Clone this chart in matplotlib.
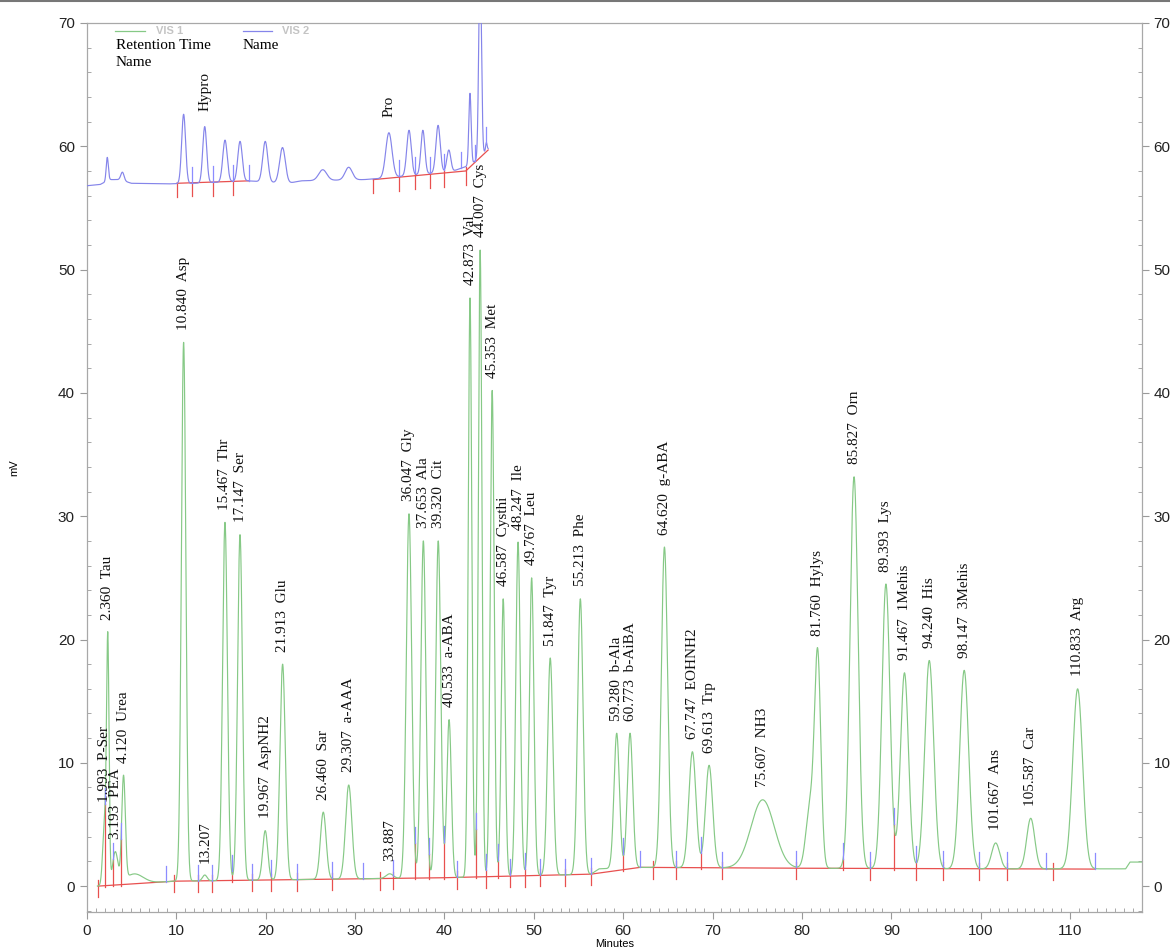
import numpy as np
import matplotlib
matplotlib.use("Agg")
import matplotlib.pyplot as plt
from matplotlib.ticker import MultipleLocator
from matplotlib.lines import Line2D

# ---- VIS 1 (green) peaks: retention time, apex (mV), width (sigma, min), label
rt1 = [1.993, 2.360, 3.193, 4.120, 10.840, 13.207, 15.467, 17.147, 19.967, 21.913,
       26.460, 29.307, 33.887, 36.047, 37.653, 39.320, 40.533, 42.873, 44.007, 45.353,
       46.587, 48.247, 49.767, 51.847, 55.213, 59.280, 60.773, 64.620, 67.747, 69.613,
       75.607, 81.760, 85.827, 89.393, 91.467, 94.240, 98.147, 101.667, 105.587, 110.833]
apex1 = [5.8, 20.6, 2.8, 9.0, 44.1, 0.9, 29.5, 28.5, 4.5, 18.0,
         6.0, 8.2, 1.0, 30.2, 28.0, 28.0, 13.5, 47.7, 51.6, 40.2,
         23.3, 27.9, 25.0, 18.5, 23.3, 12.4, 12.4, 27.5, 10.9, 9.8,
         7.0, 19.3, 33.2, 24.5, 17.3, 18.3, 17.5, 3.5, 5.5, 16.0]
sig1 = [0.2, 0.14, 0.3, 0.2, 0.25, 0.25, 0.27, 0.27, 0.28, 0.3,
        0.32, 0.35, 0.4, 0.3, 0.28, 0.28, 0.25, 0.2, 0.2, 0.22,
        0.22, 0.25, 0.25, 0.3, 0.3, 0.3, 0.3, 0.35, 0.4, 0.4,
        1.3, 0.35, 0.45, 0.45, 0.45, 0.5, 0.5, 0.45, 0.45, 0.55]
names1 = ["P-Ser", "Tau", "PEA", "Urea", "Asp", "", "Thr", "Ser", "AspNH2", "Glu",
          "Sar", "a-AAA", "", "Gly", "Ala", "Cit", "a-ABA", "Val", "Cys", "Met",
          "Cysthi", "Ile", "Leu", "Tyr", "Phe", "b-Ala", "b-AiBA", "g-ABA", "EOHNH2", "Trp",
          "NH3", "Hylys", "Orn", "Lys", "1Mehis", "His", "3Mehis", "Ans", "Car", "Arg"]
# unlabeled shape components (tail after Urea, Hylys shoulder)
extra_rt = [5.3, 80.9]
extra_amp = [0.8, 5.0]
extra_sig = [1.0, 0.45]

# baseline knots of VIS 1 and its integration baseline
base1_t = [1.2, 9.8, 40.0, 56.4, 57.3, 62.0, 80.0, 100.0, 116.2, 116.7, 118.0]
base1_v = [0.0, 0.4, 0.68, 0.97, 1.4, 1.52, 1.45, 1.4, 1.4, 1.95, 1.95]
red1_t = [1.3, 9.8, 40.0, 56.4, 61.9, 80.0, 112.8]
red1_v = [0.0, 0.4, 0.68, 0.97, 1.52, 1.45, 1.38]
red1_ticks = [1.30, 2.05, 2.98, 3.84, 9.80, 12.49, 13.98, 16.2, 18.45, 20.6, 23.56, 27.4,
              32.8, 34.3, 36.7, 38.3, 39.97, 41.46, 43.55, 44.67, 46.04, 47.35, 48.99,
              50.7, 53.5, 56.4, 59.96, 63.3, 65.9, 68.7, 71.1, 79.3, 84.6, 87.6, 90.3,
              92.7, 95.8, 99.8, 102.9, 108.1]
blue1_ticks = [2.05, 2.98, 3.84, 8.87, 12.49, 13.98, 16.2, 18.45, 20.6, 23.56, 27.4, 30.87,
               34.3, 36.7, 38.3, 39.97, 41.46, 43.55, 44.67, 46.04, 47.35, 48.99, 50.7,
               53.5, 56.4, 59.96, 61.9, 65.9, 68.7, 71.1, 79.3, 84.6, 87.6, 90.3, 92.7,
               95.8, 99.8, 102.9, 107.3, 112.8]

# ---- VIS 2 (blue) trace, drawn offset at the top
rt2 = [2.3, 4.0, 10.84, 13.2, 15.47, 17.15, 19.97, 21.9, 26.4, 29.3, 33.8, 36.05,
       37.6, 39.3, 40.5, 42.87, 44.0, 44.7]
apex2 = [59.1, 57.9, 62.6, 61.6, 60.5, 60.4, 60.4, 59.9, 58.1, 58.3, 61.1, 61.3,
         61.3, 61.7, 59.7, 64.3, 75.0, 60.3]
sig2 = [0.12, 0.18, 0.22, 0.22, 0.25, 0.25, 0.28, 0.32, 0.45, 0.4, 0.35, 0.25,
        0.22, 0.24, 0.22, 0.13, 0.15, 0.08]
names2 = {13.2: "Hypro", 33.8: "Pro"}
base2_t = [0.0, 1.5, 2.6, 3.7, 5.0, 9.0, 12.0, 18.0, 22.5, 24.0, 31.0, 33.0, 41.0, 43.0, 44.9]
base2_v = [56.8, 56.9, 57.3, 57.3, 57.0, 56.95, 57.0, 57.2, 57.0, 57.2, 57.3, 57.4, 58.0, 58.5, 59.8]
red2_segs = [([10.06, 18.2], [57.0, 57.2]), ([32.06, 42.4, 44.9], [57.3, 58.0, 59.7])]
red2_ticks = [10.06, 11.74, 14.09, 16.33, 32.06, 34.96, 36.7, 38.4, 40.0, 42.4]
blue2_ticks = [11.74, 14.09, 16.33, 18.2, 34.96, 36.7, 38.4, 40.0, 41.9, 43.4, 44.7]

GREEN = "#86c986"
BLUE = "#8585ea"
RED = "#e8504f"
TICKBLUE = "#8c8cff"
SERIF = "Liberation Serif"
SANS = "Liberation Sans"


def make_trace(rts, apexes, sigs, bt, bv, ert=(), eamp=(), esig=()):
    """Gaussian peak model whose apexes hit the read-off values."""
    rts, sigs = np.asarray(rts), np.asarray(sigs)

    def extra(t):
        out = np.zeros_like(t, dtype=float)
        for r, a, s in zip(ert, eamp, esig):
            out += a * np.exp(-0.5 * ((t - r) / s) ** 2)
        return out

    # solve amplitudes so overlapping peaks still reach their apex
    A = np.exp(-0.5 * ((rts[:, None] - rts[None, :]) / sigs[None, :]) ** 2)
    target = np.asarray(apexes) - np.interp(rts, bt, bv) - extra(rts)
    amps = np.linalg.solve(A, target)

    def f(t):
        t = np.atleast_1d(np.asarray(t, dtype=float))
        y = np.interp(t, bt, bv) + extra(t)
        y += (amps[None, :] * np.exp(-0.5 * ((t[:, None] - rts[None, :])
                                             / sigs[None, :]) ** 2)).sum(axis=1)
        return y
    return f


fig = plt.figure(figsize=(11.7, 9.49), dpi=100)
ax = fig.add_axes([86.7 / 1170, 37 / 949, 1055 / 1170, 889 / 949])

f1 = make_trace(rt1, apex1, sig1, base1_t, base1_v, extra_rt, extra_amp, extra_sig)
f2 = make_trace(rt2, apex2, sig2, base2_t, base2_v)

t1 = np.linspace(1.2, 118.0, 8000)
ax.plot(t1, f1(t1), color=GREEN, lw=0.85, zorder=3)
t2 = np.linspace(0.0, 44.9, 4000)
ax.plot(t2, f2(t2), color=BLUE, lw=0.85, zorder=3)

# integration baselines and marks, VIS 1
ax.plot(red1_t, red1_v, color=RED, lw=0.9, zorder=2)
for tk in red1_ticks:
    rb = np.interp(tk, red1_t, red1_v)
    tv = f1(tk)[0]
    lo = rb - 0.9 if tv - rb < 0.6 else rb - 0.1
    ax.plot([tk, tk], [lo, max(tv, rb + 0.5)], color=RED, lw=0.9, zorder=2)
for tk in blue1_ticks:
    tv = f1(tk)[0]
    ax.plot([tk, tk], [tv, tv + 1.3], color=TICKBLUE, lw=0.9, zorder=4)

# integration baselines and marks, VIS 2
all_rt, all_rv = [], []
for st, sv in red2_segs:
    ax.plot(st, sv, color=RED, lw=0.9, zorder=2)
    all_rt += st
    all_rv += sv
for tk in red2_ticks:
    rb = np.interp(tk, all_rt, all_rv)
    tv = f2(tk)[0]
    ax.plot([tk, tk], [rb - 1.1, max(tv, rb)], color=RED, lw=0.9, zorder=2)
for tk in blue2_ticks:
    tv = f2(tk)[0]
    ax.plot([tk, tk], [tv, tv + 1.3], color=TICKBLUE, lw=0.9, zorder=4)

# peak labels
for r, nm in zip(rt1, names1):
    top = f1(r)[0]
    lab = f"{r:.3f}  {nm}" if nm else f"{r:.3f}"
    ax.annotate(lab, xy=(r, top), xytext=(0, 9), textcoords="offset points",
                rotation=90, ha="center", va="bottom", fontsize=11,
                family=SERIF, color="#111111", zorder=5)
for r, nm in names2.items():
    top = f2(r)[0]
    ax.annotate(nm, xy=(r, top), xytext=(0, 11), textcoords="offset points",
                rotation=90, ha="center", va="bottom", fontsize=11,
                family=SERIF, color="#111111", zorder=5)

# legend block
tr = ax.transAxes
ax.add_line(Line2D([0.0268, 0.0552], [0.991, 0.991], color=GREEN, lw=0.9, transform=tr))
ax.text(0.066, 0.991, "VIS 1", transform=tr, fontsize=8, fontweight="bold",
        color="#c4c4c4", family=SANS, va="center")
ax.add_line(Line2D([0.148, 0.176], [0.991, 0.991], color=BLUE, lw=0.9, transform=tr))
ax.text(0.185, 0.991, "VIS 2", transform=tr, fontsize=8, fontweight="bold",
        color="#c4c4c4", family=SANS, va="center")
ax.text(0.0278, 0.975, "Retention Time", transform=tr, fontsize=11, family=SERIF,
        va="center")
ax.text(0.0278, 0.956, "Name", transform=tr, fontsize=11, family=SERIF, va="center")
ax.text(0.148, 0.975, "Name", transform=tr, fontsize=11, family=SERIF, va="center")

# axes styling
ax.set_xlim(0, 118)
ax.set_ylim(-2.1, 70)
ax.xaxis.set_major_locator(MultipleLocator(10))
ax.xaxis.set_minor_locator(MultipleLocator(1))
ax.yaxis.set_major_locator(MultipleLocator(10))
ax.yaxis.set_minor_locator(MultipleLocator(2))
ax.tick_params(which="both", colors="#9a9a9a", labelcolor="#222222",
               labelsize=11, right=True, labelright=True)
ax.tick_params(which="major", direction="out", length=5, width=0.8)
ax.tick_params(which="minor", direction="in", length=3, width=0.6)
for lbl in ax.get_xticklabels() + ax.get_yticklabels():
    lbl.set_family(SANS)
for sp in ax.spines.values():
    sp.set_color("#a8a8a8")
    sp.set_linewidth(0.9)
ax.set_xlabel("Minutes", fontsize=8, family=SANS, labelpad=1)
ax.set_ylabel("mV", fontsize=8, family=SANS)
ax.yaxis.set_label_coords(-0.064, 0.5)

fig.add_artist(Line2D([0, 1], [0.9985, 0.9985], color="#777777", lw=1.5,
                      transform=fig.transFigure))

fig.savefig("out.png", dpi=100)
